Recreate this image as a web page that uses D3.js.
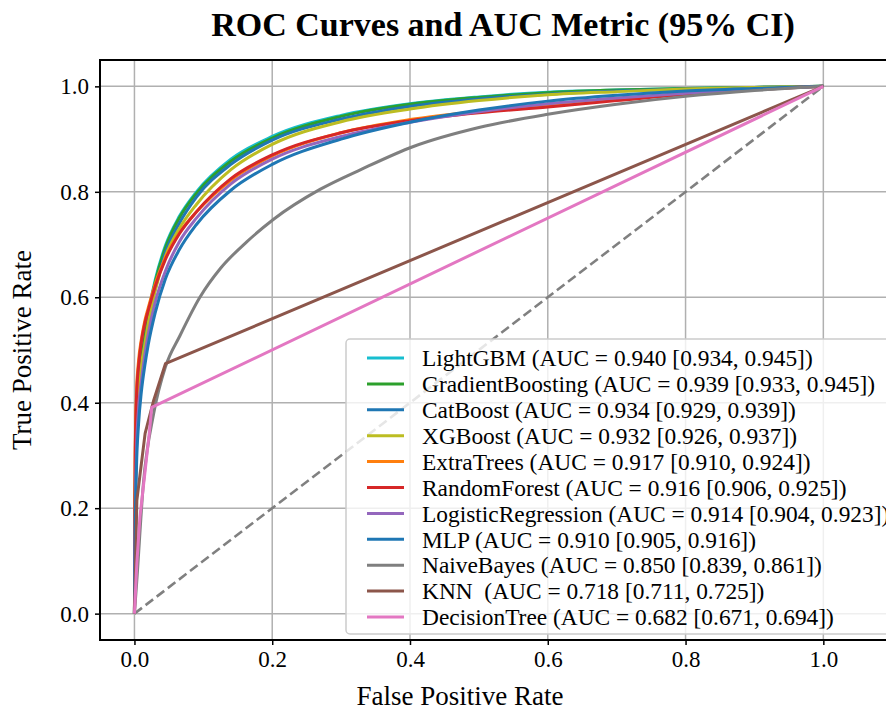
<!DOCTYPE html>
<html>
<head>
<meta charset="utf-8">
<script src="https://cdn.jsdelivr.net/npm/d3@7"></script>
<style>
  body { margin: 0; background: #fff; }
  text { font-family: "Liberation Serif", "Times New Roman", serif; }
</style>
</head>
<body>
<div id="chart"></div>
<script>
// model names, colours and legend labels (legend order = draw order)
const models = ['LightGBM', 'GradientBoosting', 'CatBoost', 'XGBoost', 'ExtraTrees',
  'RandomForest', 'LogisticRegression', 'MLP', 'NaiveBayes', 'KNN', 'DecisionTree'];
const colors = ['#17becf', '#2ca02c', '#1f77b4', '#bcbd22', '#ff7f0e',
  '#d62728', '#9467bd', '#1f77b4', '#7f7f7f', '#8c564b', '#e377c2'];
const labels = [
  'LightGBM (AUC = 0.940 [0.934, 0.945])',
  'GradientBoosting (AUC = 0.939 [0.933, 0.945])',
  'CatBoost (AUC = 0.934 [0.929, 0.939])',
  'XGBoost (AUC = 0.932 [0.926, 0.937])',
  'ExtraTrees (AUC = 0.917 [0.910, 0.924])',
  'RandomForest (AUC = 0.916 [0.906, 0.925])',
  'LogisticRegression (AUC = 0.914 [0.904, 0.923])',
  'MLP (AUC = 0.910 [0.905, 0.916])',
  'NaiveBayes (AUC = 0.850 [0.839, 0.861])',
  'KNN  (AUC = 0.718 [0.711, 0.725])',
  'DecisionTree (AUC = 0.682 [0.671, 0.694])'
];
// smooth curves get a monotone curve, the step-like ones stay straight
const smooth = [true, true, true, true, true, true, true, true, true, false, false];

// shared FPR grid for the smooth curves
const fprGrid = [0, 0.001, 0.003, 0.006, 0.01, 0.015, 0.02, 0.03, 0.045, 0.065, 0.09,
  0.14, 0.2, 0.3, 0.4, 0.5, 0.6, 0.7, 0.8, 0.9, 1];
const tprLightGBM = [0, 0.2, 0.35, 0.43, 0.48, 0.525, 0.569, 0.632, 0.698, 0.753, 0.8,
  0.862, 0.905, 0.945, 0.967, 0.98, 0.989, 0.993, 0.996, 0.998, 1];
const tprGradientBoosting = [0, 0.21, 0.36, 0.44, 0.485, 0.525, 0.565, 0.628, 0.694, 0.75, 0.797,
  0.858, 0.902, 0.943, 0.966, 0.979, 0.988, 0.993, 0.996, 0.998, 1];
const tprCatBoost = [0, 0.18, 0.33, 0.41, 0.465, 0.51, 0.55, 0.615, 0.685, 0.74, 0.79,
  0.852, 0.898, 0.938, 0.962, 0.976, 0.985, 0.991, 0.995, 0.998, 1];
const tprXGBoost = [0, 0.19, 0.34, 0.42, 0.47, 0.51, 0.55, 0.612, 0.678, 0.73, 0.776,
  0.842, 0.89, 0.933, 0.957, 0.973, 0.984, 0.99, 0.995, 0.998, 1];
const tprExtraTrees = [0, 0.3, 0.42, 0.48, 0.52, 0.555, 0.58, 0.625, 0.675, 0.722, 0.762,
  0.822, 0.868, 0.912, 0.937, 0.953, 0.965, 0.976, 0.986, 0.994, 1];
const tprRandomForest = [0, 0.28, 0.41, 0.47, 0.515, 0.55, 0.575, 0.62, 0.672, 0.72, 0.762,
  0.825, 0.87, 0.912, 0.935, 0.95, 0.961, 0.973, 0.985, 0.994, 1];
const tprLogisticRegression = [0, 0.17, 0.31, 0.39, 0.44, 0.49, 0.53, 0.59, 0.65, 0.705, 0.75,
  0.815, 0.862, 0.905, 0.932, 0.952, 0.967, 0.978, 0.987, 0.994, 1];
const tprMLP = [0, 0.15, 0.28, 0.36, 0.42, 0.47, 0.51, 0.57, 0.635, 0.69, 0.738,
  0.803, 0.852, 0.9, 0.932, 0.955, 0.972, 0.983, 0.991, 0.996, 1];

const fprNaiveBayes = [0, 0.0035, 0.013, 0.028, 0.045, 0.066, 0.095, 0.125, 0.163, 0.202,
  0.27, 0.33, 0.405, 0.5, 0.6, 0.7, 0.8, 0.9, 1];
const tprNaiveBayes = [0, 0.064, 0.247, 0.38, 0.468, 0.527, 0.6, 0.655, 0.705, 0.748,
  0.805, 0.843, 0.886, 0.922, 0.947, 0.966, 0.981, 0.992, 1];
const fprKNN = [0, 0.0035, 0.0155, 0.028, 0.045, 1];
const tprKNN = [0, 0.215, 0.342, 0.405, 0.474, 1];
const fprDecisionTree = [0, 0.0035, 0.008, 0.0156, 0.022, 0.025, 1];
const tprDecisionTree = [0, 0.096, 0.184, 0.272, 0.348, 0.391, 1];

const chanceLine = [0, 1];
const xTicks = [0, 0.2, 0.4, 0.6, 0.8, 1.0];
const yTicks = [0, 0.2, 0.4, 0.6, 0.8, 1.0];

const fprs = [fprGrid, fprGrid, fprGrid, fprGrid, fprGrid, fprGrid, fprGrid, fprGrid,
  fprNaiveBayes, fprKNN, fprDecisionTree];
const tprs = [tprLightGBM, tprGradientBoosting, tprCatBoost, tprXGBoost, tprExtraTrees,
  tprRandomForest, tprLogisticRegression, tprMLP, tprNaiveBayes, tprKNN, tprDecisionTree];

const series = models.map((name, i) => ({
  name: name,
  color: colors[i],
  label: labels[i],
  smooth: smooth[i],
  values: fprs[i].map((x, j) => ({ x: x, y: tprs[i][j] }))
}));

const width = 886;
const height = 711;
const plotLeft = 100, plotRight = 906, plotTop = 60, plotBottom = 640;

/* Scale */
const xScale = d3.scaleLinear().domain([-0.05, 1.12]).range([plotLeft, plotRight]);
const yScale = d3.scaleLinear().domain([-0.05, 1.05]).range([plotBottom, plotTop]);

const svg = d3.select('#chart')
  .append('svg')
  .attr('width', width)
  .attr('height', height)
  .style('display', 'block');

svg.append('rect').attr('width', width).attr('height', height).attr('fill', '#fff');

svg.append('clipPath').attr('id', 'plotclip')
  .append('rect')
  .attr('x', plotLeft).attr('y', plotTop)
  .attr('width', plotRight - plotLeft).attr('height', plotBottom - plotTop);

/* Grid */
const grid = svg.append('g').attr('class', 'grid');
grid.selectAll('.vgrid').data(xTicks).enter().append('line')
  .attr('x1', (d) => xScale(d)).attr('x2', (d) => xScale(d))
  .attr('y1', plotTop).attr('y2', plotBottom)
  .attr('stroke', '#b0b0b0').attr('stroke-width', 1.5);
grid.selectAll('.hgrid').data(yTicks).enter().append('line')
  .attr('x1', plotLeft).attr('x2', plotRight)
  .attr('y1', (d) => yScale(d)).attr('y2', (d) => yScale(d))
  .attr('stroke', '#b0b0b0').attr('stroke-width', 1.5);

/* Lines */
const lineSmooth = d3.line().x((d) => xScale(d.x)).y((d) => yScale(d.y)).curve(d3.curveMonotoneX);
const lineStraight = d3.line().x((d) => xScale(d.x)).y((d) => yScale(d.y));
const plot = svg.append('g').attr('clip-path', 'url(#plotclip)');

plot.append('path')
  .attr('d', lineStraight(chanceLine.map((v) => ({ x: v, y: v }))))
  .attr('fill', 'none')
  .attr('stroke', '#808080')
  .attr('stroke-width', 2.6)
  .attr('stroke-dasharray', '9.5,4.5');

plot.selectAll('.roc')
  .data(series)
  .enter()
  .append('path')
  .attr('class', 'roc')
  .attr('d', (d) => (d.smooth ? lineSmooth : lineStraight)(d.values))
  .attr('fill', 'none')
  .attr('stroke', (d) => d.color)
  .attr('stroke-width', 3)
  .attr('stroke-linejoin', 'round');

/* Axes */
const xAxis = d3.axisBottom(xScale).tickValues(xTicks).tickFormat(d3.format('.1f'))
  .tickSize(5).tickPadding(6);
const yAxis = d3.axisLeft(yScale).tickValues(yTicks).tickFormat(d3.format('.1f'))
  .tickSize(5).tickPadding(6);

const gx = svg.append('g').attr('transform', `translate(0, ${plotBottom})`).call(xAxis);
const gy = svg.append('g').attr('transform', `translate(${plotLeft}, 0)`).call(yAxis);
[gx, gy].forEach((g) => {
  g.select('.domain').remove();
  g.selectAll('line').attr('stroke', '#000').attr('stroke-width', 1.5);
  g.selectAll('text').attr('font-size', 23).attr('fill', '#000')
    .style('font-family', '"Liberation Serif", "Times New Roman", serif');
});

/* Spines */
svg.append('path')
  .attr('d', `M${plotRight},${plotTop}H${plotLeft}V${plotBottom}H${plotRight}`)
  .attr('fill', 'none').attr('stroke', '#000').attr('stroke-width', 2);

/* Legend */
const legend = svg.append('g').attr('transform', 'translate(346, 339)');
legend.append('rect')
  .attr('width', 552).attr('height', 295)
  .attr('rx', 4)
  .attr('fill', '#fff').attr('fill-opacity', 0.8)
  .attr('stroke', '#cccccc').attr('stroke-width', 1.5);

const rows = legend.selectAll('.row').data(series).enter().append('g')
  .attr('transform', (d, i) => `translate(0, ${19 + i * 25.9})`);
rows.append('line')
  .attr('x1', 21).attr('x2', 58)
  .attr('stroke', (d) => d.color).attr('stroke-width', 3);
rows.append('text')
  .attr('x', 76).attr('dy', '0.35em')
  .attr('font-size', 23.4)
  .attr('fill', '#000')
  .style('white-space', 'pre')
  .text((d) => d.label);

/* Titles */
svg.append('text')
  .attr('x', 503).attr('y', 36)
  .attr('text-anchor', 'middle')
  .attr('font-size', 34).attr('font-weight', 'bold')
  .text('ROC Curves and AUC Metric (95% CI)');

svg.append('text')
  .attr('x', 460).attr('y', 705)
  .attr('text-anchor', 'middle')
  .attr('font-size', 27)
  .text('False Positive Rate');

svg.append('text')
  .attr('transform', `translate(31, ${(plotTop + plotBottom) / 2}) rotate(-90)`)
  .attr('text-anchor', 'middle')
  .attr('font-size', 27)
  .text('True Positive Rate');
</script>
</body>
</html>
